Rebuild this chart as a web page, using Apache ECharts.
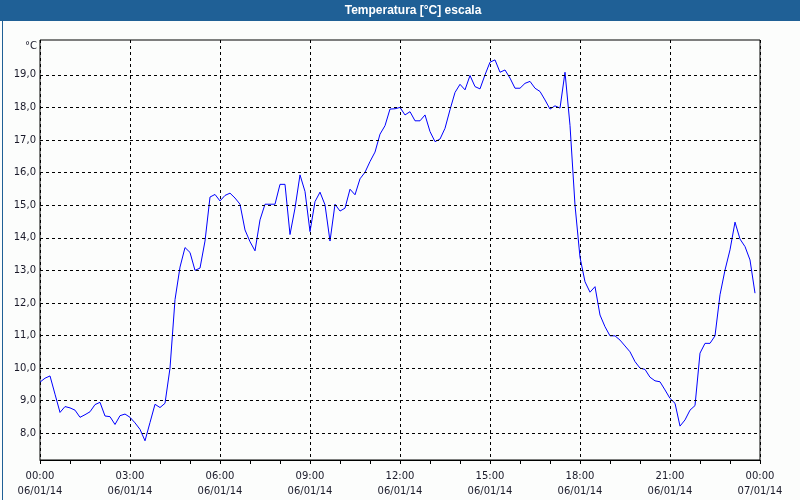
<!DOCTYPE html>
<html>
<head>
<meta charset="utf-8">
<script src="https://cdn.jsdelivr.net/npm/echarts@6/dist/echarts.min.js"></script>
<style>
html,body{margin:0;padding:0;background:#fcfdfc;}
#chart{width:800px;height:500px;}
</style>
</head>
<body>
<div id="chart"></div>
<script>
// Temperature samples, every 10 minutes starting 06/01/14 00:00
const temperatures = [
  9.57, 9.69, 9.76, 9.20, 8.64, 8.82, 8.78, 8.71, 8.49, 8.57,
  8.66, 8.88, 8.95, 8.53, 8.51, 8.27, 8.54, 8.59, 8.49, 8.32,
  8.12, 7.77, 8.33, 8.89, 8.79, 8.92, 10.00, 12.10, 13.10, 13.70,
  13.55, 13.00, 13.07, 13.90, 15.25, 15.33, 15.13, 15.30, 15.37, 15.22,
  15.03, 14.24, 13.88, 13.60, 14.55, 15.03, 15.03, 15.03, 15.64, 15.64,
  14.10, 14.91, 15.93, 15.42, 14.19, 15.11, 15.40, 15.01, 13.90, 15.03,
  14.82, 14.91, 15.49, 15.32, 15.81, 16.01, 16.34, 16.63, 17.18, 17.44,
  17.95, 17.96, 18.00, 17.77, 17.87, 17.59, 17.59, 17.77, 17.26, 16.95,
  17.03, 17.36, 17.93, 18.46, 18.71, 18.54, 18.98, 18.64, 18.57, 19.00,
  19.39, 19.46, 19.08, 19.15, 18.90, 18.59, 18.59, 18.74, 18.80, 18.59,
  18.49, 18.23, 17.95, 18.05, 17.98, 19.08, 17.45, 15.00, 13.40, 12.65,
  12.33, 12.50, 11.63, 11.27, 10.99, 10.99, 10.86, 10.68, 10.50, 10.20,
  10.00, 9.96, 9.72, 9.61, 9.58, 9.33, 9.07, 8.92, 8.22, 8.41,
  8.71, 8.85, 10.46, 10.76, 10.76, 10.99, 12.25, 13.01, 13.63, 14.48,
  13.96, 13.73, 13.32, 12.30
];
const sampleStepMinutes = 10;
const tickTimes = ['00:00','03:00','06:00','09:00','12:00','15:00','18:00','21:00','00:00'];
const tickDates = ['06/01/14','06/01/14','06/01/14','06/01/14','06/01/14','06/01/14','06/01/14','06/01/14','07/01/14'];
const yGridValues = [8,9,10,11,12,13,14,15,16,17,18,19];
const titleText = 'Temperatura [°C] escala';
const unitText = '°C';

const seriesData = temperatures.map((v, i) => [i * sampleStepMinutes, v]);
const labelFont = 'DejaVu Sans';
const labelColor = '#1a1a2a';

const chart = echarts.init(document.getElementById('chart'), null, {renderer: 'canvas'});
chart.setOption({
  animation: false,
  backgroundColor: '#fcfdfc',
  graphic: [
    {type: 'rect', left: 0, top: 0, shape: {width: 800, height: 21}, style: {fill: '#1f6096'}, z: 0},
    {type: 'rect', left: 0, top: 0, shape: {x: 0.5, y: 0.5, width: 799, height: 499}, style: {fill: 'none', stroke: '#1f6096', lineWidth: 1}, z: 0},
    {type: 'text', x: 413, y: 11, style: {text: titleText, fill: '#ffffff', font: 'bold 12px "Liberation Sans", Arial, sans-serif', align: 'center', verticalAlign: 'middle'}, z: 5},
    {type: 'text', x: 37, y: 46, style: {text: unitText, fill: labelColor, font: '10px "DejaVu Sans", sans-serif', align: 'right', verticalAlign: 'middle'}, z: 5}
  ],
  grid: {left: 40, right: 40, top: 40, bottom: 40, show: true, borderColor: '#000', borderWidth: 1, backgroundColor: 'transparent'},
  xAxis: {
    type: 'value', min: 0, max: 1440, interval: 180,
    axisLine: {show: true, lineStyle: {color: '#000', width: 1}},
    axisTick: {show: true, length: 4, lineStyle: {color: '#000'}},
    minorTick: {show: true, splitNumber: 3, length: 4, lineStyle: {color: '#000'}},
    splitLine: {show: true, lineStyle: {color: '#000', type: [3, 3], width: 1}},
    axisLabel: {
      show: true, margin: 9, color: labelColor, fontFamily: labelFont, fontSize: 10, lineHeight: 15,
      showMinLabel: true, showMaxLabel: true,
      formatter: function (v) {
        const idx = Math.round(v / 180);
        return tickTimes[idx] + '\n' + tickDates[idx];
      }
    }
  },
  yAxis: {
    type: 'value', min: 7.18, max: 20.07,
    axisLine: {show: false}, axisTick: {show: false}, axisLabel: {show: false}, splitLine: {show: false}
  },
  series: [{
    type: 'line',
    data: seriesData,
    showSymbol: false,
    symbol: 'none',
    lineStyle: {color: '#0000ff', width: 1},
    z: 3,
    markLine: {
      silent: true,
      symbol: ['none', 'none'],
      animation: false,
      lineStyle: {color: '#000', type: [3, 3], width: 1},
      label: {
        show: true, position: 'start', distance: 4, color: labelColor, fontFamily: labelFont, fontSize: 10,
        formatter: function (p) { return p.value.toFixed(1).replace('.', ','); }
      },
      emphasis: {disabled: true},
      data: yGridValues.map(v => ({yAxis: v}))
    }
  }]
});
</script>
</body>
</html>
